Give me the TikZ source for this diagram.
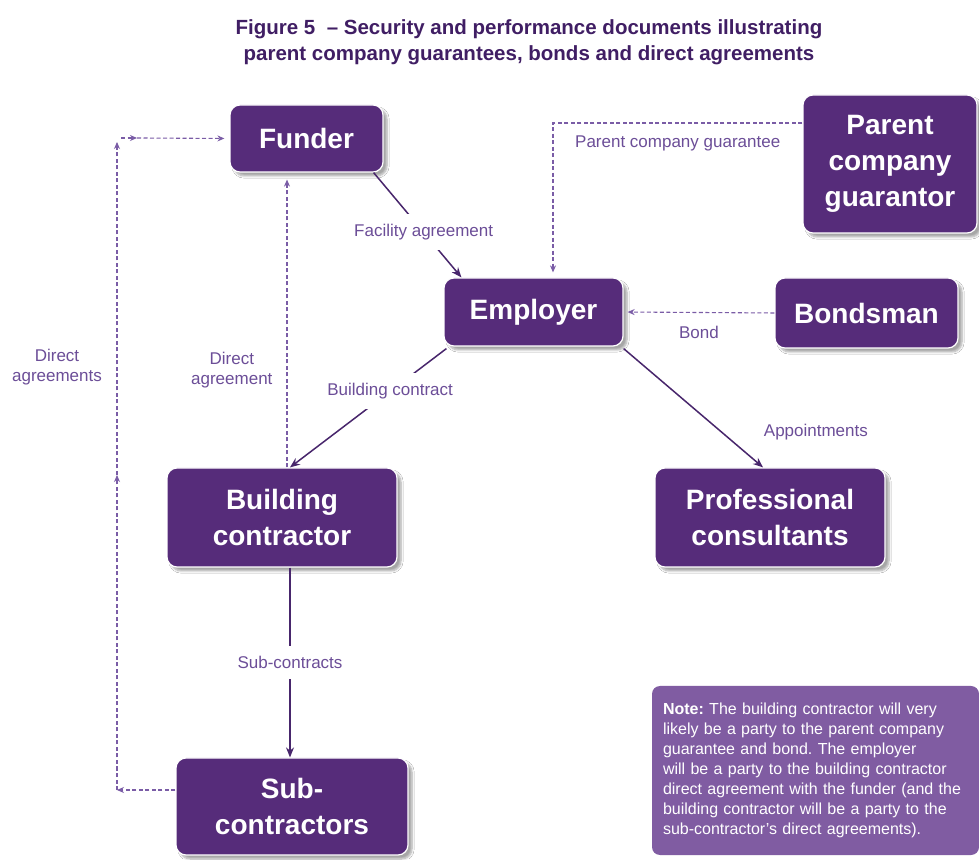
\documentclass[tikz,border=0pt]{standalone}
\usepackage{fontspec}
\setmainfont{Liberation Sans}
\usetikzlibrary{arrows.meta,shadows.blur}
\frenchspacing

\begin{document}
\begin{tikzpicture}[x=1pt,y=1pt,
  box/.style={draw=white,line width=1.2pt,fill=boxColor,rounded corners=10pt,
    text=white,font=\fontsize{28}{36}\selectfont\bfseries,align=center,
    inner sep=0pt,blur shadow={shadow xshift=4pt,shadow yshift=-4pt,shadow opacity=35,shadow blur steps=6}},
  notebox/.style={fill=noteColor,rounded corners=8pt,text=white,
    font=\fontsize{16}{20}\selectfont,align=left,text width=305pt,inner sep=0pt},
  lbl/.style={text=lblColor,font=\fontsize{17}{20}\selectfont,align=center,inner sep=2pt},
  gap/.style={fill=white,inner xsep=4pt,inner ysep=10pt},
  contract/.style={draw=lineColor,line width=1.5pt,-{Stealth[length=10pt,width=8pt]}},
  security/.style={draw=dashColor,line width=1.1pt,dash pattern=on 4pt off 2.5pt,
    -{Stealth[length=7pt,width=6pt]}}]
\definecolor{boxColor}{RGB}{86,44,122}
\definecolor{noteColor}{RGB}{128,92,162}
\definecolor{lblColor}{RGB}{108,78,152}
\definecolor{lineColor}{RGB}{72,38,108}
\definecolor{dashColor}{RGB}{122,92,166}
\definecolor{titleColor}{RGB}{64,30,100}
\useasboundingbox[fill=white] (0,0) rectangle (979,859);

\node[text=titleColor,font=\fontsize{20.5}{26}\selectfont\bfseries,align=center] (title) at (529,817)
  {Figure 5\ \ -- Security and performance documents illustrating\\
   parent company guarantees, bonds and direct agreements};

\node[box,minimum width=153pt,minimum height=67pt] (funder) at (306.5,720.5) {Funder};
\node[box,minimum width=174pt,minimum height=138pt] (pcg) at (890,695) {Parent\\company\\guarantor};
\node[box,minimum width=179pt,minimum height=68pt] (employer) at (533.5,547) {Employer};
\node[box,minimum width=183pt,minimum height=70pt] (bondsman) at (866.5,546) {Bondsman};
\node[box,minimum width=230pt,minimum height=99pt] (bc) at (282,341.5) {Building\\contractor};
\node[box,minimum width=230pt,minimum height=99pt] (pc) at (770,341.5) {Professional\\consultants};
\node[box,minimum width=232pt,minimum height=97pt] (sub) at (292,52.5) {Sub-\\contractors};

\node[notebox,minimum width=327pt,minimum height=169pt] (note) at (815.5,88.5)
  {\textbf{Note:} The building contractor will very\\
   likely be a party to the parent company\\
   guarantee and bond. The employer\\
   will be a party to the building contractor\\
   direct agreement with the funder (and the\\
   building contractor will be a party to the\\
   sub-contractor's direct agreements).};

\draw[contract] ([xshift=-10pt]funder.south east) -- node[lbl,gap,pos=0.57] (facility) {Facility agreement}
  ([xshift=18pt]employer.north west);
\draw[contract] ([xshift=3pt,yshift=-2pt]employer.south west) -- node[lbl,gap,pos=0.36] (building) {Building contract}
  ([xshift=8pt]bc.north);
\draw[contract] ([yshift=-2pt]employer.south east) -- node[lbl,pos=0.7,right=40pt] (appoint) {Appointments}
  ([xshift=-7pt]pc.north);
\draw[contract] ([xshift=8pt]bc.south) -- node[lbl,gap] (subcon) {Sub-contracts}
  ([xshift=8pt]bc.south |- sub.north);

\draw[security,shorten >=4pt] (bondsman.west) -- node[lbl,below=11pt] (bond) {Bond} (employer.east);
\draw[security,shorten >=5pt] ([yshift=41pt]pcg.west) -| node[lbl,pos=0.25,below=10pt] (guarantee) {Parent company guarantee}
  ([xshift=19.5pt]employer.north);
\draw[security,shorten >=7pt] ([xshift=5pt]bc.north) -- node[lbl,pos=0.33,left=12pt] (da) {Direct\\agreement}
  ([xshift=5pt]bc.north |- funder.south);

\coordinate (dlb) at (117,69);
\coordinate (dlm) at (117,384);
\coordinate (dlt) at (117,717);
\coordinate (dtl) at (121,721);
\coordinate (dtm) at (137,721);
\draw[security] ([yshift=16.5pt]sub.west) -- (dlb);
\draw[security] (dlb) -- (dlm);
\draw[security] (dlm) -- (dlt);
\draw[security] (dtl) -- (dtm);
\draw[security,shorten >=5pt] (dtm) -- (funder.west);
\node[lbl] (das) at (57,492) {Direct\\agreements};
\end{tikzpicture}
\end{document}
